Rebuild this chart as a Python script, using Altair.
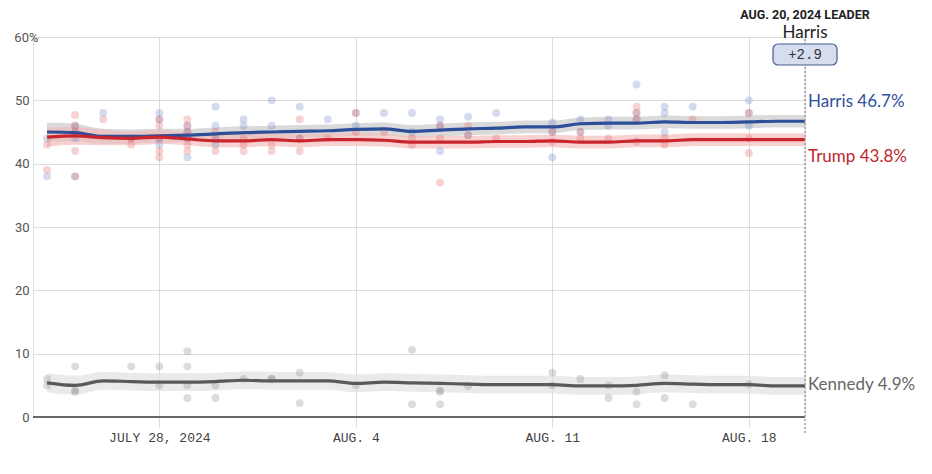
import altair as alt
import pandas as pd

# ---------------- data ----------------
tick_days = [4, 11, 18, 25]
tick_labels = ["JULY 28, 2024", "AUG. 4", "AUG. 11", "AUG. 18"]
y_ticks = [0, 10, 20, 30, 40, 50, 60]

candidates = ["Harris", "Trump", "Kennedy"]
final_vals = [46.7, 43.8, 4.9]
line_colors = ["#2d4e98", "#c9252c", "#595959"]
band_colors = ["#c6c6c6", "#f5b8b8", "#dedede"]
dot_colors = ["#7088c8", "#e56a6a", "#8a8a8a"]
text_colors = ["#2f519b", "#c0282d", "#666666"]

# days since July 24, 2024
trend_days = list(range(28))
harris_trend = [45.0, 44.9, 44.3, 44.3, 44.4, 44.5, 44.7, 44.9, 45.0, 45.1,
                45.2, 45.4, 45.5, 45.1, 45.3, 45.5, 45.6, 45.8, 45.8, 46.3,
                46.4, 46.4, 46.6, 46.5, 46.5, 46.6, 46.7, 46.7]
trump_trend = [44.2, 44.4, 44.1, 44.0, 44.2, 43.9, 43.6, 43.6, 43.8, 43.6,
               43.8, 43.8, 43.7, 43.4, 43.4, 43.4, 43.5, 43.5, 43.6, 43.4,
               43.4, 43.6, 43.6, 43.8, 43.8, 43.8, 43.8, 43.8]
kennedy_trend = [5.4, 5.0, 5.7, 5.6, 5.5, 5.5, 5.6, 5.8, 5.7, 5.7,
                 5.7, 5.3, 5.5, 5.4, 5.3, 5.2, 5.1, 5.1, 5.1, 4.9,
                 4.9, 5.0, 5.3, 5.2, 5.1, 5.1, 4.9, 4.9]
main_halfwidth = [1.5, 1.4, 1.2, 1.1, 1.1, 1.0, 1.0, 1.0, 1.0, 1.0,
                  1.0, 1.0, 1.0, 1.0, 1.0, 1.0, 1.0, 1.0, 1.0, 1.0,
                  1.0, 1.0, 1.0, 1.0, 1.0, 1.0, 1.0, 1.0]
kennedy_halfwidth = [1.5, 1.5, 1.4, 1.4, 1.4, 1.4, 1.4, 1.4, 1.4, 1.4,
                     1.4, 1.4, 1.4, 1.4, 1.4, 1.4, 1.4, 1.4, 1.4, 1.4,
                     1.4, 1.4, 1.4, 1.4, 1.4, 1.4, 1.4, 1.4]

harris_poll_days = [0, 0, 1, 1, 1, 1, 2, 3, 4, 4, 4, 4, 5, 5, 5, 5, 6, 6, 6, 6,
                    7, 7, 8, 8, 9, 9, 10, 11, 11, 12, 13, 13, 14, 14, 14, 15, 15,
                    16, 18, 18, 18, 19, 19, 20, 20, 21, 21, 21, 22, 22, 22, 23,
                    25, 25, 25]
harris_poll_vals = [44, 38, 46, 45, 44, 38, 48, 44, 48, 47, 44, 43, 46, 45, 44, 41,
                    49, 46, 44, 43, 47, 46, 50, 46, 49, 44, 47, 48, 46, 48, 48, 45,
                    47, 46, 42, 47.4, 44.5, 48, 46.5, 45, 41, 47, 45, 47, 46,
                    52.5, 48, 47, 49, 48, 45, 49, 50, 48, 46]

trump_poll_days = [0, 0, 1, 1, 1, 1, 1, 2, 3, 3, 4, 4, 4, 4, 4, 5, 5, 5, 5, 5, 5,
                   6, 6, 6, 7, 7, 7, 8, 8, 9, 9, 9, 10, 11, 11, 12, 13, 13,
                   14, 14, 14, 15, 15, 16, 18, 18, 19, 19, 20, 21, 21, 21, 21,
                   22, 22, 23, 25, 25, 25]
trump_poll_vals = [43, 39, 47.7, 46, 45, 42, 38, 47, 44, 43, 47, 46, 44, 42, 41,
                   47, 46, 45, 44, 43, 42, 45, 44, 42, 44, 43, 42, 43, 42, 47, 44,
                   42, 44, 48, 45, 45, 44, 43, 46, 44, 37, 46, 44.5, 44, 45, 43.5,
                   45, 44, 44, 49, 48, 47, 43.5, 44, 43, 47, 48, 44, 41.7]

kennedy_poll_days = [0, 0, 1, 1, 1, 3, 4, 4, 5, 5, 5, 5, 6, 6, 7, 8, 8, 9, 9, 11,
                     13, 13, 14, 14, 14, 15, 18, 18, 19, 20, 20, 21, 21, 22, 22,
                     23, 25]
kennedy_poll_vals = [6, 5, 8, 4.2, 4, 8, 8, 5, 10.4, 8, 5, 3, 5, 3, 6, 6, 6, 7, 2.2,
                     5, 10.6, 2, 4, 4.2, 2, 4.9, 7, 5, 6, 5, 3, 4, 2, 6.6, 3, 2,
                     5.2]

leader_header = "AUG. 20, 2024 LEADER"
leader_name = "Harris"
leader_margin = "+2.9"
leader_day = 27

# ---------------- tables ----------------
trend_sets = {
    "Harris": (harris_trend, main_halfwidth),
    "Trump": (trump_trend, main_halfwidth),
    "Kennedy": (kennedy_trend, kennedy_halfwidth),
}
poll_sets = {
    "Harris": (harris_poll_days, harris_poll_vals),
    "Trump": (trump_poll_days, trump_poll_vals),
    "Kennedy": (kennedy_poll_days, kennedy_poll_vals),
}


def trend_df(cand):
    tr, hw = trend_sets[cand]
    return pd.DataFrame({"day": trend_days, "val": tr,
                         "lo": [v - h for v, h in zip(tr, hw)],
                         "hi": [v + h for v, h in zip(tr, hw)]})


def poll_df(cand):
    ds, vs = poll_sets[cand]
    return pd.DataFrame({"day": ds, "val": vs})


ann = pd.DataFrame({"day": [leader_day], "header": [leader_header],
                    "leader": [leader_name], "margin": [leader_margin]})
zero = pd.DataFrame({"val": [0]})

# ---------------- scales / axes ----------------
x_scale = alt.Scale(domain=[-0.5, 27], nice=False, zero=False)
y_scale = alt.Scale(domain=[0, 60], nice=False)

label_expr = " : ".join(
    f"datum.value == {d} ? '{t}'" for d, t in zip(tick_days, tick_labels)
) + " : ''"

x_axis = alt.Axis(values=tick_days, labelExpr=label_expr, grid=True,
                  gridColor="#dcdcdc", gridWidth=1, domain=False,
                  tickColor="#dcdcdc", tickSize=10, labelPadding=4,
                  labelFont="Liberation Mono", labelFontSize=13,
                  labelColor="#444444", title=None)
y_axis = alt.Axis(values=y_ticks,
                  labelExpr="datum.value == 60 ? '60%' : datum.value",
                  grid=True, gridColor="#dcdcdc", gridWidth=1, domain=False,
                  ticks=False,
                  labelPadding={"condition": {"test": "datum.value == 60",
                                              "value": -5}, "value": 4},
                  labelFont="Roboto", labelFontSize=13,
                  labelColor="#555555", title=None)

X = alt.X("day:Q", scale=x_scale, axis=x_axis)
Y = alt.Y("val:Q", scale=y_scale, axis=y_axis)

layers = []
for cand, bc in zip(candidates, band_colors):
    layers.append(alt.Chart(trend_df(cand)).mark_area(
        opacity=0.65, color=bc, interpolate="monotone").encode(
        x=X, y=alt.Y("lo:Q", scale=y_scale, axis=y_axis), y2="hi:Q"))

layers.append(alt.Chart(zero).mark_rule(color="#666666", strokeWidth=2).encode(y=Y))

for cand, dc in zip(candidates, dot_colors):
    layers.append(alt.Chart(poll_df(cand)).mark_circle(
        size=62, opacity=0.3, color=dc).encode(x=X, y=Y))

for cand, lc in zip(candidates, line_colors):
    layers.append(alt.Chart(trend_df(cand)).mark_line(
        strokeWidth=3.2, color=lc, interpolate="monotone").encode(x=X, y=Y))

layers.append(alt.Chart(ann).mark_rule(color="#9a9a9a", strokeDash=[2, 2],
                                       strokeWidth=1.5).encode(
    x=X, y=alt.value(2), y2=alt.value(398)))

dys = [-19, 17, -1]
for cand, val, col, dy in zip(candidates, final_vals, text_colors, dys):
    df = pd.DataFrame({"day": [leader_day], "val": [val],
                       "label": [f"{cand} {val}%"]})
    layers.append(alt.Chart(df).mark_text(
        align="left", baseline="middle", dx=3, dy=dy, font="Lato",
        fontSize=17, color=col).encode(x=X, y=Y, text="label:N"))

layers.append(alt.Chart(ann).mark_text(
    align="center", baseline="alphabetic", font="Roboto", fontWeight="bold",
    fontSize=12.5, color="#222222").encode(x=X, y=alt.value(-18), text="header:N"))
layers.append(alt.Chart(ann).mark_text(
    align="center", baseline="alphabetic", font="Lato", fontSize=17,
    color="#222222").encode(x=X, y=alt.value(1), text="leader:N"))
layers.append(alt.Chart(ann).mark_rect(
    fill="#d5ddef", stroke="#4a5c92", strokeWidth=1.2, cornerRadius=5).encode(
    x=alt.value(740), x2=alt.value(804), y=alt.value(7), y2=alt.value(28)))
layers.append(alt.Chart(ann).mark_text(
    align="center", baseline="middle", font="Liberation Mono", fontSize=14,
    color="#333333").encode(x=X, y=alt.value(18), text="margin:N"))

chart = alt.layer(*layers).properties(
    width=772, height=380,
    autosize=alt.AutoSizeParams(type="none"),
    padding={"left": 25, "top": 29, "right": 119, "bottom": 49},
).configure_view(stroke=None).configure(background="white")

chart.save("out.html", embed_options={"renderer": "svg", "actions": False})
